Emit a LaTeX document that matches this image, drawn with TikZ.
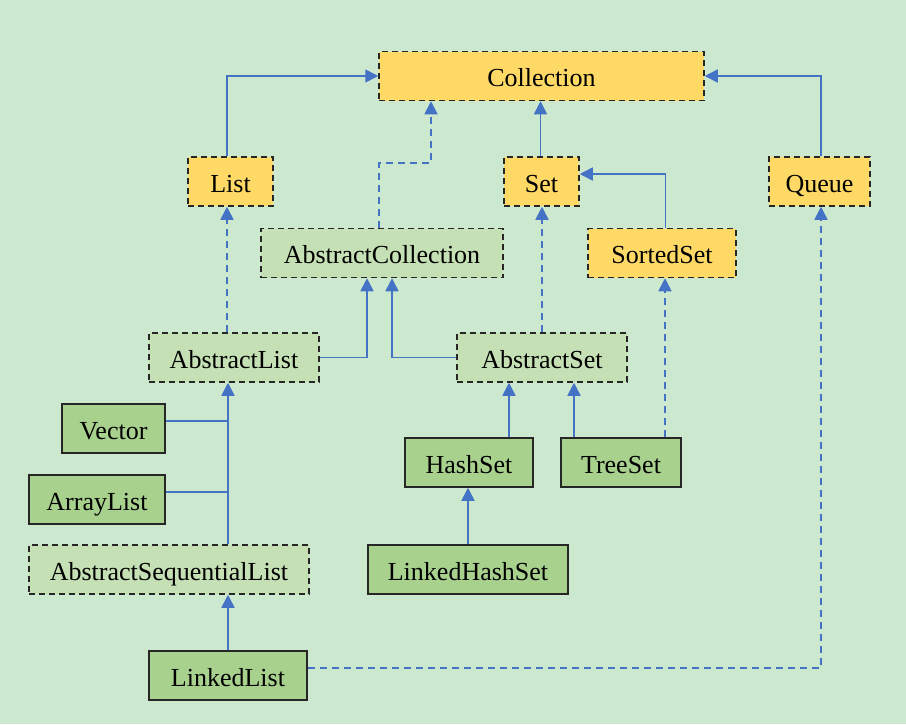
\documentclass[tikz,border=0pt]{standalone}
\usepackage{fontspec}
\setmainfont{Liberation Serif}
\usetikzlibrary{arrows.meta,positioning}
\definecolor{bggreen}{RGB}{204,232,207}
\definecolor{ifgold}{RGB}{255,217,102}
\definecolor{abgreen}{RGB}{197,224,180}
\definecolor{imgreen}{RGB}{169,209,142}
\definecolor{lineblue}{RGB}{68,114,196}

\begin{document}
\begin{tikzpicture}[x=1pt,y=-1pt,
	box/.style={draw=black!85,line width=1.5pt,minimum height=49pt,inner sep=0pt,text height=21.5pt,text depth=0pt,font=\fontsize{26}{30}\selectfont},
	iface/.style={box,dash pattern=on 6pt off 4pt,fill=ifgold},
	abst/.style={box,dash pattern=on 6pt off 4pt,fill=abgreen},
	impl/.style={box,fill=imgreen},
	link/.style={draw=lineblue,line width=1.6pt},
	line/.style={link,-{Triangle[length=13pt,width=13pt]}},
	dline/.style={line,dash pattern=on 7pt off 5pt}]
		
		\fill[bggreen] (0,0) rectangle (906,724);
		
		% interfaces
		\node[iface,minimum width=325pt] (coll) at (541.5,76) {Collection};
		\node[iface,minimum width=85pt] (list) at (230.5,181.5) {List};
		\node[iface,minimum width=75pt] (set) at (541.5,181.5) {Set};
		\node[iface,minimum width=101pt] (queue) at (819.5,181.5) {Queue};
		\node[iface,minimum width=148pt] (sorted) at (662,253) {SortedSet};
		
		% abstract classes
		\node[abst,minimum width=242pt] (acol) at (382,253) {AbstractCollection};
		\node[abst,minimum width=170pt] (alist) at (234,357.5) {AbstractList};
		\node[abst,minimum width=170pt] (aset) at (542,357.5) {AbstractSet};
		\node[abst,minimum width=280pt] (aseq) at (169,569.5) {AbstractSequentialList};
		
		% classes
		\node[impl,minimum width=103pt] (vector) at (113.5,428.5) {Vector};
		\node[impl,minimum width=136pt] (arraylist) at (97,499.5) {ArrayList};
		\node[impl,minimum width=128pt] (hashset) at (469,462.5) {HashSet};
		\node[impl,minimum width=120pt] (treeset) at (621,462.5) {TreeSet};
		\node[impl,minimum width=200pt] (lhset) at (468,569.5) {LinkedHashSet};
		\node[impl,minimum width=158pt] (llist) at (228,675.5) {LinkedList};
		
		\coordinate (listup) at ([xshift=-3.5pt]list.north);
		\coordinate (listdn) at ([xshift=-3.5pt]list.south);
		\coordinate (sortup) at ([xshift=3.5pt]sorted.north);
		\coordinate (sortdn) at ([xshift=3.5pt]sorted.south);
		\coordinate (vecj) at ([yshift=7.5pt]vector.east);
		\coordinate (arrj) at ([yshift=7.5pt]arraylist.east);
		\coordinate (hashup) at ([xshift=40pt]hashset.north);
		\coordinate (treeup) at ([xshift=-47pt]treeset.north);
		\coordinate (treesort) at ([xshift=44pt]treeset.north);
		
		\draw[line] (listup) |- (coll.west);
		\draw[line] ([xshift=1.5pt]queue.north) |- (coll.east);
		\draw[line] ([xshift=-1pt]set.north) -- ([xshift=-1pt]set.north |- coll.south);
		\draw[dline] ([xshift=-3pt]acol.north) -- ++(0,-65) -| ([xshift=-110.5pt]coll.south);
		\draw[line] (sortup) |- ([yshift=7.5pt]set.east);
		
		\draw[dline] (listdn |- alist.north) -- (listdn);
		\draw[line] (alist.east) -| ([xshift=-15pt]acol.south);
		\draw[line] (aset.west) -| ([xshift=10pt]acol.south);
		\draw[dline] (aset.north) -- (aset.north |- set.south);
		\draw[dline] (treesort) -- (treesort |- sortdn);
		
		\draw[link] (vecj) -- (vecj -| llist.north);
		\draw[link] (arrj) -- (arrj -| llist.north);
		\draw[line] (aseq.north -| llist.north) -- (llist.north |- alist.south);
		\draw[line] (llist.north) -- (llist.north |- aseq.south);
		
		\draw[line] (hashup) -- (hashup |- aset.south);
		\draw[line] (treeup) -- (treeup |- aset.south);
		\draw[line] (lhset.north) -- (lhset.north |- hashset.south);
		
		\draw[dline] ([yshift=7.5pt]llist.east) -| ([xshift=1.5pt]queue.south);
		
\end{tikzpicture}
\end{document}
